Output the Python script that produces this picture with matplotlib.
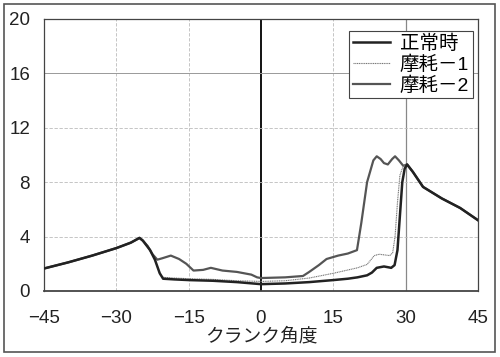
import matplotlib
matplotlib.use("Agg")
import matplotlib.pyplot as plt
from matplotlib.patches import Rectangle

plt.rcParams['font.family'] = ['Liberation Sans', 'Noto Sans CJK JP', 'DejaVu Sans']

# shared parts of the three curves (crank angle, value)
left_x = [-45, -40, -35, -30, -27, -25.2]
left_y = [1.65, 2.1, 2.6, 3.15, 3.55, 3.9]
right_x = [30.3, 31.5, 33.6, 37.5, 41.3, 45]
right_y = [9.3, 8.75, 7.65, 6.8, 6.1, 5.2]

# 正常時
normal_x = [-24.5, -23, -22, -21, -20.3, -18, -15, -10, -5, 0, 5, 10, 15, 18, 20,
            22, 23, 24, 25.5, 27, 27.7, 28.3, 28.8, 29.3, 29.8]
normal_y = [3.7, 3.0, 2.3, 1.3, 0.9, 0.85, 0.8, 0.75, 0.65, 0.5, 0.55, 0.65, 0.8, 0.9, 1.0,
            1.15, 1.35, 1.7, 1.8, 1.7, 1.9, 3.0, 5.5, 8.0, 9.0]

# 摩耗－1
wear1_x = [-24.5, -23, -22, -21, -20.3, -18, -15, -10, -5, 0, 5, 10, 15, 20, 22,
           23.5, 24.5, 26.7, 27.3, 27.8, 28.3, 28.8, 29.4, 29.9]
wear1_y = [3.7, 3.0, 2.3, 1.3, 1.0, 0.95, 0.9, 0.85, 0.75, 0.7, 0.75, 0.95, 1.3, 1.7, 1.95,
           2.6, 2.7, 2.6, 2.8, 4.0, 6.5, 8.5, 9.1, 9.3]

# 摩耗－2
wear2_x = [-24.5, -23.5, -22.5, -21.5, -20.5, -18.7, -17, -15.5, -14, -12, -10.4, -8, -5,
           -2, -0.8, 0, 5, 8.7, 10, 12, 13.6, 16, 18, 19.9, 20.8, 22, 23.3, 24, 24.8,
           25.5, 26.3, 27.2, 27.8, 28.6, 29.5]
wear2_y = [3.7, 3.3, 2.7, 2.3, 2.4, 2.6, 2.35, 2.0, 1.5, 1.55, 1.7, 1.5, 1.4,
           1.2, 1.0, 0.95, 1.0, 1.1, 1.4, 1.9, 2.35, 2.6, 2.75, 3.0, 5.0, 8.0, 9.6, 9.9, 9.7,
           9.4, 9.3, 9.7, 9.9, 9.6, 9.2]

x_ticks = [-45, -30, -15, 0, 15, 30, 45]
y_ticks = [0, 4, 8, 12, 16, 20]

fig = plt.figure(figsize=(5, 3.57), dpi=100)
ax = fig.add_axes([0.088, 0.185, 0.868, 0.762])

# outer frame around the whole picture
fig.patches.append(Rectangle((0.008, 0.014), 0.982, 0.975, transform=fig.transFigure,
                             fill=False, edgecolor='#555555', linewidth=1.2))

for v in x_ticks:
    if v == 0:
        ax.axvline(v, color='black', lw=1.3, zorder=1)
    elif v == 30:
        ax.axvline(v, color='#888888', lw=0.9, zorder=1)
    elif v != -45:
        ax.axvline(v, color='#bbbbbb', lw=0.6, ls=(0, (4, 2)), zorder=1)
for v in y_ticks[1:-1]:
    if v == 16:
        ax.axhline(v, color='#999999', lw=0.7, zorder=1)
    else:
        ax.axhline(v, color='#bbbbbb', lw=0.6, ls=(0, (4, 2)), zorder=1)

ax.plot(left_x + wear2_x + right_x, left_y + wear2_y + right_y,
        color='#555555', lw=1.6, label='摩耗－2', zorder=3)
ax.plot(left_x + wear1_x + right_x, left_y + wear1_y + right_y,
        color='#777777', lw=0.8, ls=(0, (1, 0.6)), label='摩耗－1', zorder=4)
ax.plot(left_x + normal_x + right_x, left_y + normal_y + right_y,
        color='#222222', lw=1.8, label='正常時', zorder=5)

ax.set_xlim(-45, 45)
ax.set_ylim(0, 20)
ax.set_xticks(x_ticks)
ax.set_yticks(y_ticks)
ax.set_xticklabels(['−45', '−30', '−15', '0', '15', '30', '45'])
ax.tick_params(length=0, labelsize=13.5, colors='#222222')
ax.tick_params(axis='x', pad=14)
ax.tick_params(axis='y', pad=10)
for s in ax.spines.values():
    s.set_color('#444444')
    s.set_linewidth(0.9)
ax.spines['bottom'].set_linewidth(1.3)

ax.set_xlabel('クランク角度', fontsize=13.5, labelpad=0, color='#222222')

handles, labels = ax.get_legend_handles_labels()
order = [2, 1, 0]
leg = ax.legend([handles[i] for i in order], [labels[i] for i in order],
                loc='upper right', bbox_to_anchor=(0.997, 0.97), fontsize=14,
                fancybox=False, edgecolor='#444444', framealpha=1,
                handlelength=1.9, borderpad=0.2, labelspacing=0.12, handletextpad=0.5,
                borderaxespad=0.2)
leg.get_frame().set_linewidth(0.8)

fig.savefig('out.png', dpi=100)
